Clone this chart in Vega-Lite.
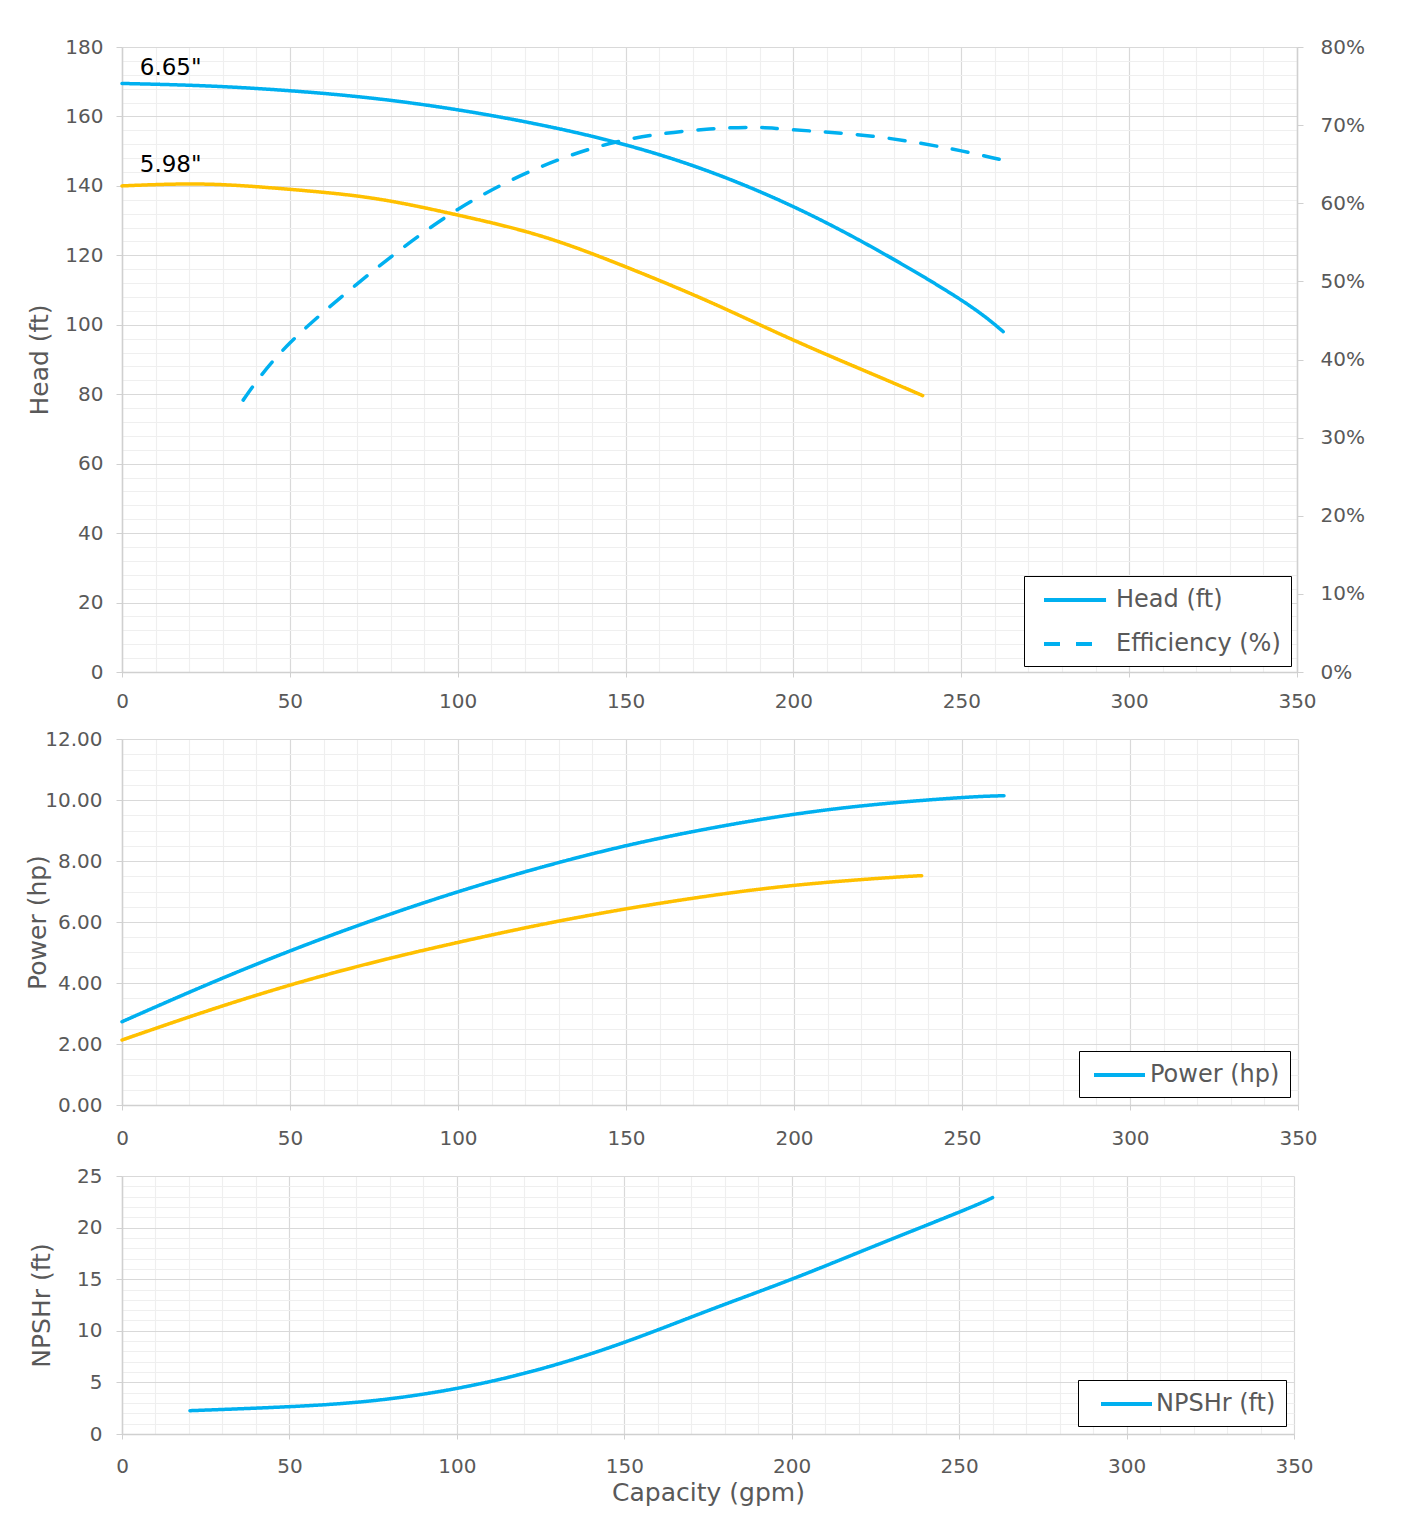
{
  "$schema": "https://vega.github.io/schema/vega-lite/v6.json",
  "padding": {"top": 37, "left": 25, "right": 10, "bottom": 5},
  "background": "white",
  "datasets": {
    "head": [
      {"q": 0, "head": 169.5, "impeller": "6.65\"", "metric": "Head (ft)"},
      {"q": 25, "head": 168.8, "impeller": "6.65\"", "metric": "Head (ft)"},
      {"q": 50, "head": 167.4, "impeller": "6.65\"", "metric": "Head (ft)"},
      {"q": 75, "head": 165.2, "impeller": "6.65\"", "metric": "Head (ft)"},
      {"q": 100, "head": 161.9, "impeller": "6.65\"", "metric": "Head (ft)"},
      {"q": 125, "head": 157.5, "impeller": "6.65\"", "metric": "Head (ft)"},
      {"q": 150, "head": 151.8, "impeller": "6.65\"", "metric": "Head (ft)"},
      {"q": 175, "head": 144.1, "impeller": "6.65\"", "metric": "Head (ft)"},
      {"q": 200, "head": 134.0, "impeller": "6.65\"", "metric": "Head (ft)"},
      {"q": 225, "head": 121.5, "impeller": "6.65\"", "metric": "Head (ft)"},
      {"q": 250, "head": 107.1, "impeller": "6.65\"", "metric": "Head (ft)"},
      {"q": 262.5, "head": 98.0, "impeller": "6.65\"", "metric": "Head (ft)"},
      {"q": 0, "head": 140.0, "impeller": "5.98\"", "metric": "Head (ft)"},
      {"q": 25, "head": 140.5, "impeller": "5.98\"", "metric": "Head (ft)"},
      {"q": 50, "head": 139.0, "impeller": "5.98\"", "metric": "Head (ft)"},
      {"q": 75, "head": 136.4, "impeller": "5.98\"", "metric": "Head (ft)"},
      {"q": 100, "head": 131.6, "impeller": "5.98\"", "metric": "Head (ft)"},
      {"q": 125, "head": 125.5, "impeller": "5.98\"", "metric": "Head (ft)"},
      {"q": 150, "head": 116.7, "impeller": "5.98\"", "metric": "Head (ft)"},
      {"q": 175, "head": 106.6, "impeller": "5.98\"", "metric": "Head (ft)"},
      {"q": 200, "head": 95.6, "impeller": "5.98\"", "metric": "Head (ft)"},
      {"q": 225, "head": 85.2, "impeller": "5.98\"", "metric": "Head (ft)"},
      {"q": 238.5, "head": 79.6, "impeller": "5.98\"", "metric": "Head (ft)"}
    ],
    "eff": [
      {"q": 36.1, "eff": 34.8, "metric": "Efficiency (%)"},
      {"q": 50, "eff": 42.1, "metric": "Efficiency (%)"},
      {"q": 75, "eff": 51.4, "metric": "Efficiency (%)"},
      {"q": 100, "eff": 59.2, "metric": "Efficiency (%)"},
      {"q": 125, "eff": 64.7, "metric": "Efficiency (%)"},
      {"q": 150, "eff": 68.1, "metric": "Efficiency (%)"},
      {"q": 175, "eff": 69.5, "metric": "Efficiency (%)"},
      {"q": 190, "eff": 69.7, "metric": "Efficiency (%)"},
      {"q": 200, "eff": 69.4, "metric": "Efficiency (%)"},
      {"q": 225, "eff": 68.5, "metric": "Efficiency (%)"},
      {"q": 250, "eff": 66.7, "metric": "Efficiency (%)"},
      {"q": 262.5, "eff": 65.5, "metric": "Efficiency (%)"}
    ],
    "labels": [
      {"q": 5.3, "head": 174, "label": "6.65\""},
      {"q": 5.3, "head": 146, "label": "5.98\""}
    ],
    "power": [
      {"q": 0, "power": 2.73, "impeller": "6.65\"", "metric": "Power (hp)"},
      {"q": 25, "power": 3.93, "impeller": "6.65\"", "metric": "Power (hp)"},
      {"q": 50, "power": 5.05, "impeller": "6.65\"", "metric": "Power (hp)"},
      {"q": 75, "power": 6.07, "impeller": "6.65\"", "metric": "Power (hp)"},
      {"q": 100, "power": 6.99, "impeller": "6.65\"", "metric": "Power (hp)"},
      {"q": 125, "power": 7.8, "impeller": "6.65\"", "metric": "Power (hp)"},
      {"q": 150, "power": 8.5, "impeller": "6.65\"", "metric": "Power (hp)"},
      {"q": 175, "power": 9.07, "impeller": "6.65\"", "metric": "Power (hp)"},
      {"q": 200, "power": 9.53, "impeller": "6.65\"", "metric": "Power (hp)"},
      {"q": 225, "power": 9.86, "impeller": "6.65\"", "metric": "Power (hp)"},
      {"q": 250, "power": 10.08, "impeller": "6.65\"", "metric": "Power (hp)"},
      {"q": 262.5, "power": 10.14, "impeller": "6.65\"", "metric": "Power (hp)"},
      {"q": 0, "power": 2.13, "impeller": "5.98\"", "metric": "Power (hp)"},
      {"q": 25, "power": 3.07, "impeller": "5.98\"", "metric": "Power (hp)"},
      {"q": 50, "power": 3.93, "impeller": "5.98\"", "metric": "Power (hp)"},
      {"q": 75, "power": 4.68, "impeller": "5.98\"", "metric": "Power (hp)"},
      {"q": 100, "power": 5.33, "impeller": "5.98\"", "metric": "Power (hp)"},
      {"q": 125, "power": 5.92, "impeller": "5.98\"", "metric": "Power (hp)"},
      {"q": 150, "power": 6.43, "impeller": "5.98\"", "metric": "Power (hp)"},
      {"q": 175, "power": 6.86, "impeller": "5.98\"", "metric": "Power (hp)"},
      {"q": 200, "power": 7.2, "impeller": "5.98\"", "metric": "Power (hp)"},
      {"q": 225, "power": 7.43, "impeller": "5.98\"", "metric": "Power (hp)"},
      {"q": 238, "power": 7.52, "impeller": "5.98\"", "metric": "Power (hp)"}
    ],
    "npsh": [
      {"q": 20.3, "npsh": 2.26, "metric": "NPSHr (ft)"},
      {"q": 50, "npsh": 2.65, "metric": "NPSHr (ft)"},
      {"q": 75, "npsh": 3.23, "metric": "NPSHr (ft)"},
      {"q": 100, "npsh": 4.42, "metric": "NPSHr (ft)"},
      {"q": 125, "npsh": 6.3, "metric": "NPSHr (ft)"},
      {"q": 150, "npsh": 8.88, "metric": "NPSHr (ft)"},
      {"q": 175, "npsh": 11.95, "metric": "NPSHr (ft)"},
      {"q": 200, "npsh": 15.0, "metric": "NPSHr (ft)"},
      {"q": 225, "npsh": 18.25, "metric": "NPSHr (ft)"},
      {"q": 250, "npsh": 21.5, "metric": "NPSHr (ft)"},
      {"q": 260, "npsh": 22.9, "metric": "NPSHr (ft)"}
    ]
  },
  "vconcat": [
    {
      "width": 1175,
      "height": 625,
      "encoding": {
        "x": {
          "field": "q", "type": "quantitative",
          "scale": {"domain": [0, 350], "nice": false},
          "axis": {
            "title": null,
            "values": [0,10,20,30,40,50,60,70,80,90,100,110,120,130,140,150,160,170,180,190,200,210,220,230,240,250,260,270,280,290,300,310,320,330,340,350],
            "labelExpr": "datum.value % 50 === 0 ? format(datum.value, 'd') : ''",
            "labelFlush": false, "labelOverlap": false,
            "gridColor": {"condition": {"test": "datum.value % 50 === 0", "value": "#d9d9d9"}, "value": "#efefef"},
            "tickOpacity": {"condition": {"test": "datum.value % 50 === 0", "value": 1}, "value": 0},
            "tickSize": 5, "labelPadding": 14
          }
        }
      },
      "layer": [
        {
          "encoding": {
            "y": {
              "field": "head", "type": "quantitative",
              "scale": {"domain": [0, 180], "nice": false},
              "axis": {
                "title": "Head (ft)",
                "values": [0,4,8,12,16,20,24,28,32,36,40,44,48,52,56,60,64,68,72,76,80,84,88,92,96,100,104,108,112,116,120,124,128,132,136,140,144,148,152,156,160,164,168,172,176,180],
                "labelExpr": "datum.value % 20 === 0 ? format(datum.value, 'd') : ''",
                "labelOverlap": false,
                "gridColor": {"condition": {"test": "datum.value % 20 === 0", "value": "#d9d9d9"}, "value": "#efefef"},
                "tickOpacity": {"condition": {"test": "datum.value % 20 === 0", "value": 1}, "value": 0},
                "tickSize": 6, "labelPadding": 13, "titlePadding": 12
              }
            }
          },
          "layer": [
            {
              "data": {"name": "head"},
              "mark": {"type": "line", "interpolate": "natural", "strokeWidth": 3.5, "strokeCap": "round"},
              "encoding": {
                "color": {
                  "field": "impeller", "type": "nominal",
                  "scale": {"domain": ["6.65\"", "5.98\""], "range": ["#00b0f0", "#ffc000"]},
                  "legend": null
                },
                "strokeDash": {
                  "field": "metric", "type": "nominal",
                  "scale": {"domain": ["Head (ft)", "Efficiency (%)"], "range": [[1, 0], [16, 16]]},
                  "legend": {
                    "title": null, "orient": "bottom-right", "offset": 6,
                    "strokeColor": "black", "fillColor": "white", "padding": 10,
                    "labelFontSize": 24, "labelColor": "#595959", "labelOffset": 46, "labelLimit": 400,
                    "symbolType": "M-1,0H4.17", "symbolSize": 576, "symbolStrokeWidth": 4, "symbolOffset": 8,
                    "symbolStrokeColor": "#00b0f0", "symbolFillColor": "transparent", "rowPadding": 18
                  }
                }
              }
            },
            {
              "data": {"name": "labels"},
              "mark": {"type": "text", "align": "left", "baseline": "middle", "fontSize": 23, "color": "black"},
              "encoding": {
                "text": {"field": "label", "type": "nominal"}
              }
            }
          ]
        },
        {
          "data": {"name": "eff"},
          "mark": {"type": "line", "interpolate": "natural", "strokeWidth": 3.5, "strokeCap": "round", "color": "#00b0f0"},
          "encoding": {
            "y": {
              "field": "eff", "type": "quantitative",
              "scale": {"domain": [0, 80], "nice": false},
              "axis": {
                "orient": "right", "title": null, "grid": false,
                "values": [0,10,20,30,40,50,60,70,80],
                "labelExpr": "format(datum.value, 'd') + '%'",
                "tickSize": 6, "labelPadding": 17
              }
            },
            "strokeDash": {"field": "metric", "type": "nominal"}
          }
        }
      ],
      "resolve": {"scale": {"y": "independent"}, "axis": {"y": "independent"}}
    },
    {
      "width": 1176,
      "height": 366,
      "data": {"name": "power"},
      "mark": {"type": "line", "interpolate": "natural", "strokeWidth": 3.5, "strokeCap": "round"},
      "encoding": {
        "x": {
          "field": "q", "type": "quantitative",
          "scale": {"domain": [0, 350], "nice": false},
          "axis": {
            "title": null,
            "values": [0,10,20,30,40,50,60,70,80,90,100,110,120,130,140,150,160,170,180,190,200,210,220,230,240,250,260,270,280,290,300,310,320,330,340,350],
            "labelExpr": "datum.value % 50 === 0 ? format(datum.value, 'd') : ''",
            "labelFlush": false, "labelOverlap": false,
            "gridColor": {"condition": {"test": "datum.value % 50 === 0", "value": "#d9d9d9"}, "value": "#efefef"},
            "tickOpacity": {"condition": {"test": "datum.value % 50 === 0", "value": 1}, "value": 0},
            "tickSize": 5, "labelPadding": 18
          }
        },
        "y": {
          "field": "power", "type": "quantitative",
          "scale": {"domain": [0, 12], "nice": false},
          "axis": {
            "title": "Power (hp)",
            "values": [0,0.5,1,1.5,2,2.5,3,3.5,4,4.5,5,5.5,6,6.5,7,7.5,8,8.5,9,9.5,10,10.5,11,11.5,12],
            "labelExpr": "datum.value % 2 === 0 ? format(datum.value, '.2f') : ''",
            "labelOverlap": false,
            "gridColor": {"condition": {"test": "datum.value % 2 === 0", "value": "#d9d9d9"}, "value": "#efefef"},
            "tickOpacity": {"condition": {"test": "datum.value % 2 === 0", "value": 1}, "value": 0},
            "tickSize": 6, "labelPadding": 14, "titlePadding": -6
          }
        },
        "color": {
          "field": "impeller", "type": "nominal",
          "scale": {"domain": ["6.65\"", "5.98\""], "range": ["#00b0f0", "#ffc000"]},
          "legend": null
        },
        "strokeDash": {
          "field": "metric", "type": "nominal",
          "scale": {"domain": ["Power (hp)"], "range": [[1, 0]]},
          "legend": {
            "title": null, "orient": "bottom-right", "offset": 8,
            "strokeColor": "black", "fillColor": "white", "padding": 10,
            "labelFontSize": 24, "labelColor": "#595959", "labelOffset": 30, "labelLimit": 400,
            "symbolType": "M-1,0H3.25", "symbolSize": 576, "symbolStrokeWidth": 4, "symbolOffset": 3,
            "symbolStrokeColor": "#00b0f0", "symbolFillColor": "transparent"
          }
        }
      }
    },
    {
      "width": 1172,
      "height": 258,
      "data": {"name": "npsh"},
      "mark": {"type": "line", "interpolate": "natural", "strokeWidth": 3.5, "strokeCap": "round", "color": "#00b0f0"},
      "encoding": {
        "x": {
          "field": "q", "type": "quantitative",
          "scale": {"domain": [0, 350], "nice": false},
          "axis": {
            "title": "Capacity (gpm)", "titlePadding": 4,
            "values": [0,10,20,30,40,50,60,70,80,90,100,110,120,130,140,150,160,170,180,190,200,210,220,230,240,250,260,270,280,290,300,310,320,330,340,350],
            "labelExpr": "datum.value % 50 === 0 ? format(datum.value, 'd') : ''",
            "labelFlush": false, "labelOverlap": false,
            "gridColor": {"condition": {"test": "datum.value % 50 === 0", "value": "#d9d9d9"}, "value": "#efefef"},
            "tickOpacity": {"condition": {"test": "datum.value % 50 === 0", "value": 1}, "value": 0},
            "tickSize": 5, "labelPadding": 17
          }
        },
        "y": {
          "field": "npsh", "type": "quantitative",
          "scale": {"domain": [0, 25], "nice": false},
          "axis": {
            "title": "NPSHr (ft)",
            "values": [0,1,2,3,4,5,6,7,8,9,10,11,12,13,14,15,16,17,18,19,20,21,22,23,24,25],
            "labelExpr": "datum.value % 5 === 0 ? format(datum.value, 'd') : ''",
            "labelOverlap": false,
            "gridColor": {"condition": {"test": "datum.value % 5 === 0", "value": "#d9d9d9"}, "value": "#efefef"},
            "tickOpacity": {"condition": {"test": "datum.value % 5 === 0", "value": 1}, "value": 0},
            "tickSize": 6, "labelPadding": 14, "titlePadding": 22
          }
        },
        "strokeDash": {
          "field": "metric", "type": "nominal",
          "scale": {"domain": ["NPSHr (ft)"], "range": [[1, 0]]},
          "legend": {
            "title": null, "orient": "bottom-right", "offset": 8,
            "strokeColor": "black", "fillColor": "white", "padding": 10,
            "labelFontSize": 24, "labelColor": "#595959", "labelOffset": 29, "labelLimit": 400,
            "symbolType": "M-1,0H3.25", "symbolSize": 576, "symbolStrokeWidth": 4, "symbolOffset": 11,
            "symbolStrokeColor": "#00b0f0", "symbolFillColor": "transparent"
          }
        }
      }
    }
  ],
  "spacing": 18,
  "resolve": {
    "scale": {"x": "independent", "y": "independent", "color": "independent", "strokeDash": "independent"},
    "legend": {"strokeDash": "independent"}
  },
  "config": {
    "font": "DejaVu Sans",
    "view": {"stroke": null},
    "axis": {
      "labelFont": "DejaVu Sans", "labelFontSize": 20, "labelColor": "#595959",
      "titleFont": "DejaVu Sans", "titleFontSize": 25, "titleFontWeight": "normal", "titleColor": "#595959",
      "domainColor": "#d0d0d0", "tickColor": "#d0d0d0", "domainWidth": 1.5, "gridWidth": 1.2
    },
    "legend": {"labelFont": "DejaVu Sans"}
  }
}
